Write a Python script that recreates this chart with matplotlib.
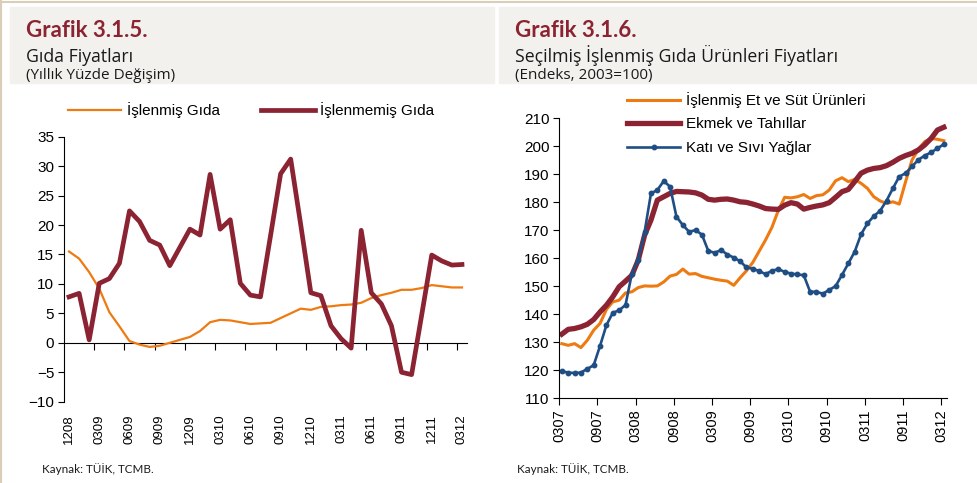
import matplotlib
matplotlib.use("Agg")
import matplotlib.pyplot as plt
from matplotlib.patches import Rectangle
import numpy as np

plt.rcParams['font.family'] = ['Liberation Sans', 'DejaVu Sans']

# Grafik 3.1.5 - monthly, 12/2008 .. 03/2012
left_labels = ['1208', '0309', '0609', '0909', '1209', '0310', '0610',
               '0910', '1210', '0311', '0611', '0911', '1211', '0312']
islenmis_gida = [15.5, 14.3, 12.0, 9.2, 5.2, 2.8, 0.3, -0.3, -0.7, -0.5,
                 0.0, 0.5, 1.0, 2.0, 3.5, 3.9, 3.8, 3.5, 3.2, 3.3,
                 3.4, 4.2, 5.0, 5.8, 5.6, 6.1, 6.2, 6.4, 6.5, 6.8,
                 7.6, 8.1, 8.5, 9.0, 9.0, 9.3, 9.8, 9.6, 9.4, 9.4]
islenmemis_gida = [7.8, 8.4, 0.5, 10.1, 10.9, 13.5, 22.4, 20.6, 17.4, 16.6,
                   13.1, 16.2, 19.3, 18.3, 28.6, 19.3, 20.9, 10.1, 8.1, 7.8,
                   18.2, 28.7, 31.2, 20.0, 8.5, 8.0, 2.9, 0.7, -0.9, 19.1,
                   8.5, 6.6, 2.9, -5.0, -5.4, 4.7, 14.9, 13.9, 13.2, 13.3]

# Grafik 3.1.6 - monthly, 03/2007 .. 03/2012
right_labels = ['0307', '0907', '0308', '0908', '0309', '0909',
                '0310', '0910', '0311', '0911', '0312']
et_sut = [129.5, 128.9, 129.5, 128.1, 130.7, 134.3, 136.7, 141.7, 144.4, 145.0,
          147.6, 148.0, 149.5, 150.1, 150.0, 150.1, 151.5, 153.6, 154.2, 156.1,
          154.3, 154.5, 153.5, 153.0, 152.5, 152.1, 151.8, 150.3, 153.0, 155.5,
          158.5, 162.5, 166.5, 171.0, 177.0, 181.7, 181.5, 181.9, 182.7, 181.3,
          182.3, 182.6, 184.3, 187.6, 188.7, 187.3, 188.1, 186.7, 184.9, 181.9,
          180.4, 179.5, 180.1, 179.3, 187.3, 195.0, 198.8, 201.6, 202.7, 202.4,
          201.9]
ekmek = [132.9, 134.6, 134.9, 135.5, 136.4, 138.1, 140.8, 143.2, 146.2, 149.8,
         151.8, 153.9, 159.3, 168.2, 173.6, 180.7, 181.9, 183.1, 183.8, 183.7,
         183.6, 183.3, 182.5, 181.0, 180.7, 181.0, 181.1, 180.7, 180.1, 179.9,
         179.3, 178.6, 177.7, 177.5, 177.4, 178.9, 179.8, 179.3, 177.5, 178.1,
         178.6, 179.0, 179.8, 181.7, 183.7, 184.5, 187.3, 190.3, 191.4, 192.0,
         192.3, 193.0, 194.2, 195.6, 196.6, 197.4, 198.6, 200.4, 202.7, 205.7,
         206.7]
yaglar = [119.6, 119.2, 119.0, 119.2, 120.5, 121.8, 128.7, 136.1, 140.5, 141.4,
          143.3, 154.5, 159.5, 169.4, 183.1, 184.3, 187.5, 185.5, 174.8, 171.8,
          169.4, 170.0, 168.4, 162.6, 161.9, 162.9, 161.3, 160.2, 158.9, 156.7,
          156.2, 155.4, 154.3, 155.5, 156.1, 155.1, 154.5, 154.2, 153.9, 148.0,
          148.0, 147.3, 148.7, 150.0, 154.0, 158.1, 162.3, 168.5, 172.4, 175.0,
          176.9, 180.5, 184.9, 189.1, 190.3, 192.7, 195.1, 196.6, 197.7, 199.2,
          200.6]

ORANGE = '#EE7A12'
DARKRED = '#8B2332'
BLUE = '#1F4E85'

W, H = 978, 483
fig = plt.figure(figsize=(W / 100, H / 100), dpi=100)

def fx(px):
    return px / W

def fy(py):
    return 1 - py / H

# frame and header boxes
fig.patches.append(Rectangle((fx(10), fy(82.7)), fx(494 - 10), 75.4 / H,
                             transform=fig.transFigure, color='#f2f1ed', zorder=0))
fig.patches.append(Rectangle((fx(499.3), fy(82.7)), fx(978 - 499.3), 75.4 / H,
                             transform=fig.transFigure, color='#f2f1ed', zorder=0))
fig.add_artist(plt.Line2D([0, 1], [fy(1.5), fy(1.5)], transform=fig.transFigure,
                          color='#d9cfb9', lw=1.5))
fig.add_artist(plt.Line2D([fx(1.5), fx(1.5)], [0, 1], transform=fig.transFigure,
                          color='#d9cfb9', lw=1.5))

tfont = ['Lato', 'DejaVu Sans']
hfont = ['Open Sans', 'DejaVu Sans']
for x0, num, title, sub in [(26, 'Grafik 3.1.5.', 'Gıda Fiyatları', '(Yıllık Yüzde Değişim)'),
                            (515, 'Grafik 3.1.6.', 'Seçilmiş İşlenmiş Gıda Ürünleri Fiyatları',
                             '(Endeks, 2003=100)')]:
    fig.text(fx(x0), fy(36.7), num, family=tfont, fontsize=16, fontweight='bold',
             color=DARKRED, va='baseline')
    fig.text(fx(x0), fy(61.5), title, family=hfont, fontsize=12.7, color='#1a1a1a',
             va='baseline')
    fig.text(fx(x0), fy(79), sub, family=hfont, fontsize=11, color='#1a1a1a',
             va='baseline')
fig.text(fx(42), fy(469), 'Kaynak: TÜİK, TCMB.', family=tfont, fontsize=8.4,
         color='#1a1a1a', va='center')
fig.text(fx(517), fy(469), 'Kaynak: TÜİK, TCMB.', family=tfont, fontsize=8.4,
         color='#1a1a1a', va='center')

# ---- left chart
ax1 = fig.add_axes([fx(64), fy(401.7), fx(467 - 64), (401.7 - 136.7) / H])
x1 = np.arange(len(islenmis_gida))
ax1.plot(x1, islenmis_gida, color=ORANGE, lw=1.6, label='İşlenmiş Gıda')
ax1.plot(x1, islenmemis_gida, color=DARKRED, lw=3.4, label='İşlenmemiş Gıda')
ax1.set_xlim(-0.5, len(x1) - 0.5)
ax1.set_ylim(-10, 35)
ax1.set_yticks(np.arange(-10, 36, 5))
ax1.set_xticks(np.arange(0, len(x1), 3))
ax1.set_xticklabels(left_labels, rotation=90, fontsize=9.5)
ax1.tick_params(axis='x', length=0, pad=9)
ax1.tick_params(axis='y', direction='out', length=4, labelsize=11, pad=3)
for s in ['top', 'right', 'bottom']:
    ax1.spines[s].set_visible(False)
zero_ax = ax1.secondary_xaxis(10 / 45)
zero_ax.set_xticks(np.arange(2.5, len(x1) - 1, 3))
zero_ax.set_xticklabels([])
zero_ax.tick_params(direction='out', length=5)
ax1.legend(loc='center left', bbox_to_anchor=(fx(68), fy(110)),
           bbox_transform=fig.transFigure, ncol=2, frameon=False, fontsize=11,
           handlelength=3.5, handletextpad=0.35, columnspacing=2.7,
           borderpad=0, borderaxespad=0)

# ---- right chart
ax2 = fig.add_axes([fx(559.3), fy(398.3), fx(947 - 559.3), (398.3 - 118) / H])
x2 = np.arange(len(et_sut)) + 0.4
ax2.plot(x2, et_sut, color=ORANGE, lw=2.2, label='İşlenmiş Et ve Süt Ürünleri')
ax2.plot(x2, ekmek, color=DARKRED, lw=3.8, label='Ekmek ve Tahıllar')
ax2.plot(x2, yaglar, color=BLUE, lw=1.9, marker='o', markersize=3.2,
         label='Katı ve Sıvı Yağlar')
ax2.set_xlim(0, 60.9)
ax2.set_ylim(110, 210)
ax2.set_yticks(np.arange(110, 211, 10))
ax2.set_xticks(np.arange(0, 61, 6))
ax2.set_xticklabels(right_labels, rotation=90, fontsize=10.5)
ax2.tick_params(axis='x', direction='out', length=5, pad=3)
ax2.tick_params(axis='y', direction='out', length=4, labelsize=11, pad=3)
for s in ['top', 'right']:
    ax2.spines[s].set_visible(False)
ax2.legend(loc='upper left', bbox_to_anchor=(fx(627), fy(92)),
           bbox_transform=fig.transFigure, frameon=False, fontsize=11,
           handlelength=3.5, handletextpad=0.35, labelspacing=0.62,
           borderpad=0, borderaxespad=0)

fig.savefig('out.png', dpi=100)
